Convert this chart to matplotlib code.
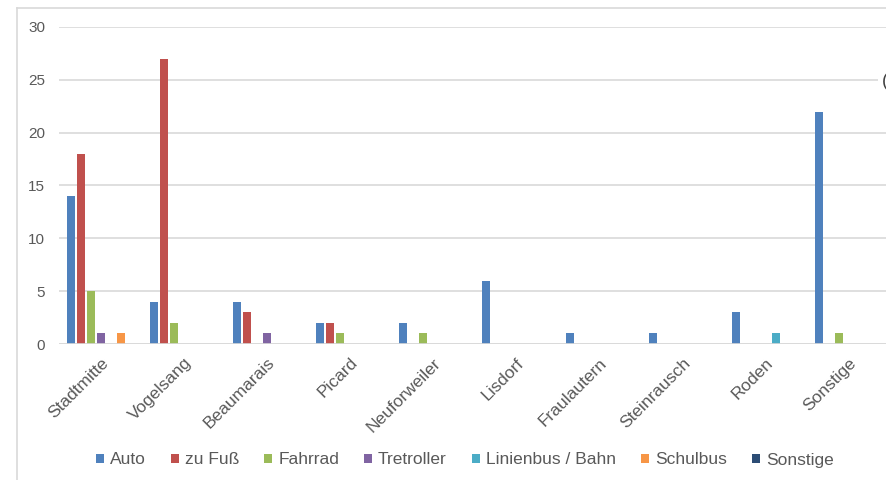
import matplotlib.pyplot as plt
import numpy as np
from matplotlib.lines import Line2D

plt.rcParams['font.family'] = ['Liberation Sans', 'DejaVu Sans']

orte = ["Stadtmitte", "Vogelsang", "Beaumarais", "Picard", "Neuforweiler",
        "Lisdorf", "Fraulautern", "Steinrausch", "Roden", "Sonstige"]

auto = [14, 4, 4, 2, 2, 6, 1, 1, 3, 22]
zu_fuss = [18, 27, 3, 2, 0, 0, 0, 0, 0, 0]
fahrrad = [5, 2, 0, 1, 1, 0, 0, 0, 0, 1]
tretroller = [1, 0, 1, 0, 0, 0, 0, 0, 0, 0]
linienbus = [0, 0, 0, 0, 0, 0, 0, 0, 1, 0]
schulbus = [1, 0, 0, 0, 0, 0, 0, 0, 0, 0]
sonstige = [0, 0, 0, 0, 0, 0, 0, 0, 0, 0]

serien = [("Auto", auto, "#4F81BD"),
          ("zu Fuß", zu_fuss, "#C0504D"),
          ("Fahrrad", fahrrad, "#9BBB59"),
          ("Tretroller", tretroller, "#8064A2"),
          ("Linienbus / Bahn", linienbus, "#4BACC6"),
          ("Schulbus", schulbus, "#F79646"),
          ("Sonstige", sonstige, "#2C4D75")]

grau = "#595959"

fig = plt.figure(figsize=(8.87, 4.8), dpi=100)
ax = fig.add_axes([0.0665, 0.2833, 0.9374, 0.6605])

x = np.arange(len(orte))
slot = 0.12
breite = 0.096
for i, (name, werte, farbe) in enumerate(serien):
    ax.bar(x + (i - 3) * slot, werte, breite, color=farbe, label=name, zorder=3)

ax.set_xlim(-0.5, len(orte) - 0.5)
ax.set_ylim(0, 30)
ax.set_yticks(range(0, 31, 5))
ax.yaxis.grid(True, color="#D9D9D9", linewidth=1.2, zorder=0)
ax.axhline(0, color="#D9D9D9", linewidth=1.2, zorder=4)
for s in ax.spines.values():
    s.set_visible(False)
ax.tick_params(axis="both", length=0, colors=grau)
ax.tick_params(axis="y", labelsize=11, pad=10)
ax.set_xticks(x)
ax.set_xticklabels(orte, rotation=45, ha="right", va="top",
                   rotation_mode="anchor", fontsize=12.5, color=grau)
ax.tick_params(axis="x", pad=8)

# Rahmen des Diagramms (links und oben)
fig.add_artist(Line2D([17 / 887, 17 / 887], [0, 1 - 8 / 480],
                      color="#D9D9D9", linewidth=1.2))
fig.add_artist(Line2D([17 / 887, 1], [1 - 8 / 480, 1 - 8 / 480],
                      color="#D9D9D9", linewidth=1.2))

fig.text(882 / 887, 1 - 82 / 480, "(", fontsize=13, color="#404040",
         va="center", ha="left",
         bbox=dict(facecolor="white", edgecolor="none", pad=3))

fig.legend(loc="center", bbox_to_anchor=(0.524, 1 - 460 / 480), ncol=7,
           frameon=False, fontsize=12.5, handlelength=0.45, handleheight=0.45,
           handletextpad=0.35, columnspacing=1.45, labelcolor=grau)

fig.savefig("out.png", dpi=100)
